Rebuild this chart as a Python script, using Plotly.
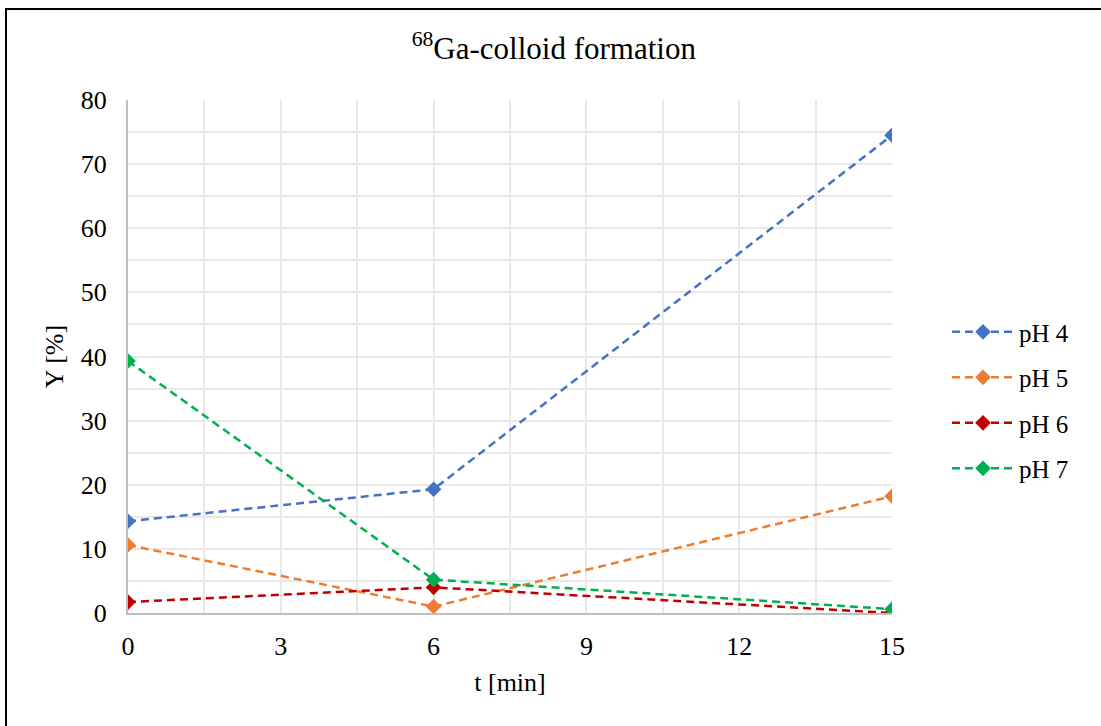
import plotly.graph_objects as go

t_min = [0, 6, 15]
ph4 = [14.3, 19.3, 74.5]
ph5 = [10.6, 1.0, 18.2]
ph6 = [1.7, 4.0, 0.0]
ph7 = [39.3, 5.2, 0.6]
series_names = ["pH 4", "pH 5", "pH 6", "pH 7"]
series_colors = ["#4472C4", "#ED7D31", "#C00000", "#00B050"]

FONT = "Liberation Serif, Times New Roman, serif"

fig = go.Figure()
for name, vals, col in zip(series_names, [ph4, ph5, ph6, ph7], series_colors):
    fig.add_trace(go.Scatter(
        x=t_min, y=vals, name=name, mode="lines+markers",
        legendgroup=name,
        line=dict(color=col, width=2.5, dash="8px,5px"),
        marker=dict(symbol="diamond", size=12, color=col),
    ))

fig.update_layout(
    width=1101, height=726,
    margin=dict(l=128, r=209, t=100, b=113),
    paper_bgcolor="white", plot_bgcolor="white",
    font=dict(family=FONT, size=26, color="black"),
    title=dict(text="<sup>68</sup>Ga-colloid formation", x=0.503, xref="container",
               xanchor="center",
               y=0.934, yref="container", yanchor="middle",
               font=dict(family=FONT, size=31, color="black")),
    showlegend=True,
    legend=dict(x=1.072, xanchor="left", y=0.415, yanchor="middle",
                font=dict(family=FONT, size=25), itemwidth=62,
                tracegroupgap=10, bgcolor="rgba(0,0,0,0)"),
    xaxis=dict(range=[0, 15], tick0=0, dtick=3, showgrid=True,
               gridcolor="#E8E8E8", gridwidth=1.5,
               tickfont=dict(family=FONT, size=26),
               minor=dict(dtick=1.5, showgrid=True, gridcolor="#E8E8E8", gridwidth=1.5),
               showline=True, linecolor="#BFBFBF", linewidth=2,
               ticks="outside", ticklen=9, tickcolor="rgba(0,0,0,0)",
               zeroline=False, title=dict(text="t [min]", standoff=13,
                                          font=dict(family=FONT, size=26))),
    yaxis=dict(range=[0, 80], tick0=0, dtick=10, showgrid=True,
               gridcolor="#E8E8E8", gridwidth=1.5,
               tickfont=dict(family=FONT, size=26),
               minor=dict(dtick=5, showgrid=True, gridcolor="#E8E8E8", gridwidth=1.5),
               showline=True, linecolor="#BFBFBF", linewidth=2,
               ticks="outside", ticklen=14, tickcolor="rgba(0,0,0,0)",
               zeroline=False, title=dict(text="Y [%]", standoff=10,
                                          font=dict(family=FONT, size=26))),
)

# outer chart border
fig.add_shape(type="rect", xref="paper", yref="paper",
              x0=(6 - 128) / 764, x1=1.5, y0=-0.5, y1=(613 - 9) / 513,
              line=dict(color="black", width=2), fillcolor="rgba(0,0,0,0)", layer="below")

fig.write_html("out.html")
